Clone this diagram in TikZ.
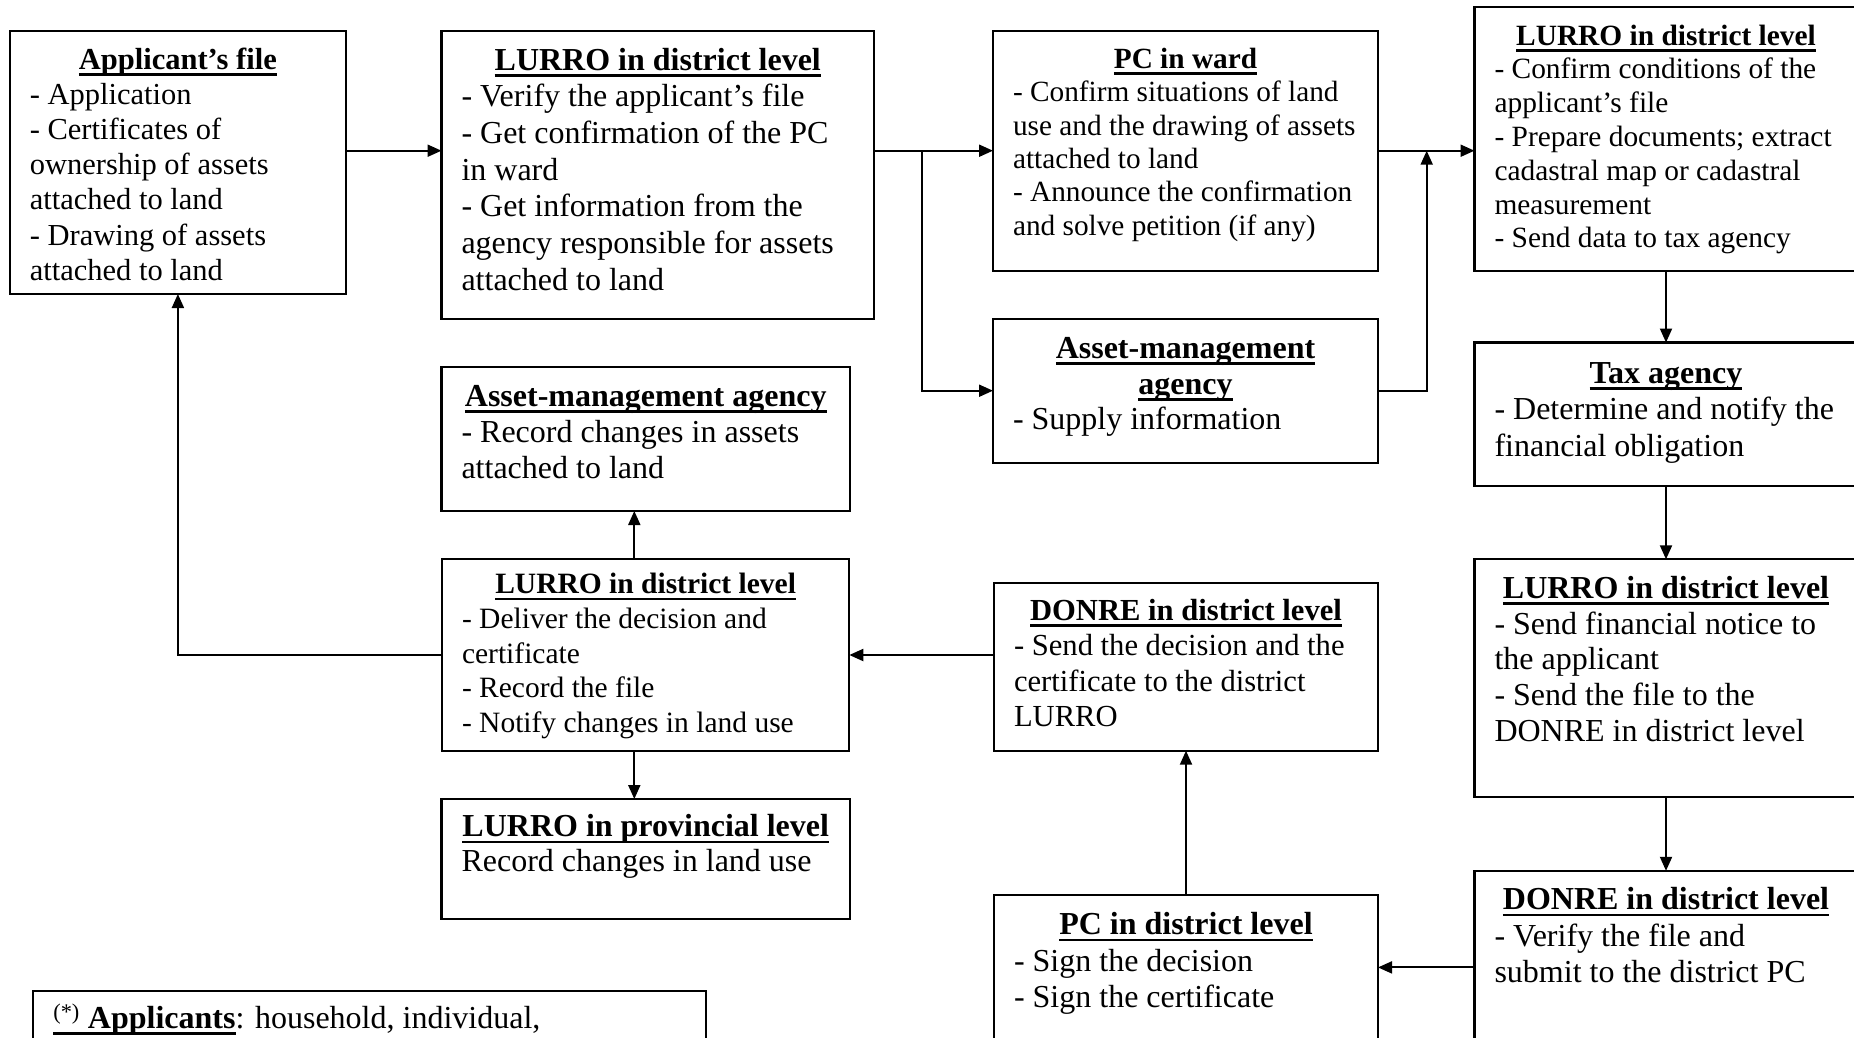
\documentclass[tikz,border=0pt]{standalone}
\usepackage{fontspec}
\setmainfont{Liberation Serif}
\usetikzlibrary{arrows.meta}
\newcommand{\myul}[1]{\leavevmode\setbox0=\hbox{#1}\rlap{\rule[-6.5pt]{\wd0}{2.4pt}}\box0}
% #1 box width, #2 box height, #3 font size, #4 baselineskip, #5 first baseline offset, #6 title, #7 body
\newcommand{\bxc}[7]{\parbox[c][#2pt][t]{\dimexpr#1pt-40pt\relax}{\fontsize{#3}{#4}\selectfont\centering\rule{0pt}{#5pt}\bfseries #6\par\raggedright\mdseries #7\par}}
\begin{document}
\begin{tikzpicture}[x=1pt,y=-1pt,
  box/.style={draw, line width=2.1pt, inner xsep=20pt, inner ysep=0pt, anchor=north west, outer sep=0pt},
  conn/.style={line width=2pt},
  arr/.style={conn, -{Triangle[length=14pt,width=12pt]}}]
\useasboundingbox (0,0) rectangle (1854,1037);
\fill[white] (0,0) rectangle (1854,1037);

\node[box] (app) at (9.8,30.7) {\bxc{336.2}{263.3}{30.5}{35.2}{38.3}{\myul{Applicant’s file}}{- Application\\- Certificates of\\ownership of assets\\attached to land\\- Drawing of assets\\attached to land}};
\node[box] (l1) at (441.5,30.7) {\bxc{432.5}{288}{32}{36.7}{39.3}{\myul{LURRO in district level}}{- Verify the applicant’s file\\- Get confirmation of the PC\\in ward\\- Get information from the\\agency responsible for assets\\attached to land}};
\node[box] (pcw) at (993,30.7) {\bxc{385}{240}{29.3}{33.4}{37.6}{\myul{PC in ward}}{- Confirm situations of land\\use and the drawing of assets\\attached to land\\- Announce the confirmation\\and solve petition (if any)}};
\node[box] (l2) at (1474.5,7.3) {\bxc{383}{263.4}{29.4}{33.8}{37.7}{\myul{LURRO in district level}}{- Confirm conditions of the\\applicant’s file\\- Prepare documents; extract\\cadastral map or cadastral\\measurement\\- Send data to tax agency}};
\node[box] (amr) at (993,318.7) {\bxc{385}{144}{32}{35.8}{39.6}{\myul{Asset-management}\par\myul{agency}}{- Supply information}};
\node[box] (tax) at (1474.5,342.5) {\bxc{383}{143.5}{32}{36.7}{40.6}{\myul{Tax agency}}{- Determine and notify the\\financial obligation}};
\node[box] (aml) at (441.5,366.7) {\bxc{408.5}{144.3}{32}{36.2}{39.3}{\myul{Asset-management agency}}{- Record changes in assets\\attached to land}};
\node[box] (l3) at (442,559.3) {\bxc{407.3}{191.4}{29.5}{34.6}{34.5}{\myul{LURRO in district level}}{- Deliver the decision and\\certificate\\- Record the file\\- Notify changes in land use}};
\node[box] (lp) at (441.5,799) {\bxc{408.5}{120}{32}{35}{37.7}{\myul{LURRO in provincial level}}{Record changes in land use}};
\node[box] (dm) at (994,583) {\bxc{384}{167.7}{30.6}{35.5}{37.3}{\myul{DONRE in district level}}{- Send the decision and the\\certificate to the district\\LURRO}};
\node[box] (l4) at (1474.5,559.3) {\bxc{383}{238}{32}{35.8}{39}{\myul{LURRO in district level}}{- Send financial notice to\\the applicant\\- Send the file to the\\DONRE in district level}};
\node[box] (dr) at (1474.5,870.8) {\bxc{383}{200}{32}{36.5}{39}{\myul{DONRE in district level}}{- Verify the file and\\submit to the district PC}};
\node[box] (pcd) at (994,894.6) {\bxc{384}{200}{32}{36.5}{40}{\myul{PC in district level}}{- Sign the decision\\- Sign the certificate}};
\node[box] (fn) at (33.3,991) {\parbox[c][120pt][t]{632.7pt}{\fontsize{32}{36}\selectfont\raggedright\rule{0pt}{37.3pt}\myul{\textsuperscript{(*)} \textbf{Applicants}}: household, individual,}};

\coordinate (ya) at (0,150.7);
\coordinate (br) at (922,150.7);
\coordinate (jn) at (1426.7,150.7);
\coordinate (yb) at (0,967.4);
\coordinate (xc) at (634.3,0);

\draw[arr] (app.east |- ya) -- (l1.west |- ya);
\draw[arr] (l1.east |- ya) -- (pcw.west |- ya);
\draw[arr] (br) |- (amr.west);
\draw[arr] (pcw.east |- ya) -- (l2.west |- ya);
\draw[arr] (amr.east) -| (jn);
\draw[arr] (l2.south) -- (tax.north);
\draw[arr] (tax.south) -- (l4.north);
\draw[arr] (l4.south) -- (dr.north);
\draw[arr] (dr.west |- yb) -- (pcd.east |- yb);
\draw[arr] (pcd.north) -- (dm.south);
\draw[arr] (dm.west |- l3.east) -- (l3.east);
\draw[arr] (xc |- l3.north) -- (xc |- aml.south);
\draw[arr] (xc |- l3.south) -- (xc |- lp.north);
\draw[arr] (l3.west) -| (app.south);
\end{tikzpicture}
\end{document}
